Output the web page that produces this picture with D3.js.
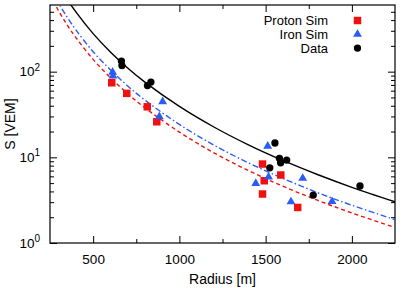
<!DOCTYPE html>
<html><head><meta charset="utf-8">
<script src="https://cdn.jsdelivr.net/npm/d3@7"></script>
<style>body{margin:0;background:#fff}text{font-family:"Liberation Sans",Arial,Helvetica,sans-serif}</style>
</head><body>
<svg id="c" width="403" height="288"></svg>
<script>
// ---- data ----
const protonR=[608,695,814,869,1482,1492,1482,1588,1686];
const protonS=[74.2,55.8,38.9,26.0,8.35,5.33,3.73,6.22,2.60];
const ironR=[613,615,903,884,1512,1517,1443,1715,1647,1885];
const ironS=[98.9,88.9,44.6,29.8,13.5,5.89,4.97,5.69,3.03,3.05];
const dataR=[664,667,815,835,1554,1580,1587,1622,1524,1776,2047];
const dataS=[133,117.8,68.8,75.6,14.7,9.73,8.65,9.30,7.54,3.63,4.63];
// fitted curves
const fitR=[250,300,350,400,500,600,700,800,1000,1200,1400,1600,1800,2000,2250];
const fitData=[1589,1023,699,498,278,170,110.6,75.6,39.3,22.6,14.0,9.19,6.30,4.47,3.03];
const fitIron=[980,631,431,307,171,105,68.2,46.6,24.2,13.9,8.63,5.67,3.88,2.76,1.87];
const fitProton=[796,513,350,250,139,85.2,55.4,37.9,19.7,11.3,7.01,4.60,3.16,2.24,1.52];
const xTicks=[500,1000,1500,2000];
const xMinor=[750,1250,1750];
const yTicks=[1,10,100];
const yExp=["0","1","2"];
const legendLabels=["Proton Sim","Iron Sim","Data"];
const xTitle="Radius [m]";
const yTitle="S [VEM]";

const RED="#f01010", BLUE="#2b5bf5", BLACK="#000";
const L=50,R=395,T=5,B=243;
const svg=d3.select("#c");
const x=d3.scaleLinear().domain([250,2250]).range([L,R]);
const y=d3.scaleLog().domain([1,600]).range([B,T]);

const yMinor=[];
[1,10,100].forEach(d=>{for(let k=2;k<=9;k++){const v=d*k; if(v<600) yMinor.push(v);}});

svg.append("defs").append("clipPath").attr("id","clip")
  .append("rect").attr("x",L).attr("y",T).attr("width",R-L).attr("height",B-T);

// axes (inward ticks)
function styleAxis(g){g.select(".domain").remove();g.selectAll("line").attr("stroke","#000").attr("stroke-width",1);}
svg.append("g").attr("transform",`translate(0,${B})`)
  .call(d3.axisBottom(x).tickValues(xTicks).tickSize(-7).tickPadding(11).tickFormat(d3.format("d")))
  .call(styleAxis).selectAll("text").attr("font-size","13.5px").attr("fill","#000").attr("font-family","Liberation Sans, Arial, sans-serif");
svg.append("g").attr("transform",`translate(0,${B})`)
  .call(d3.axisBottom(x).tickValues(xMinor).tickSize(-4).tickFormat(""))
  .call(styleAxis);
svg.append("g").attr("transform",`translate(0,${T})`)
  .call(d3.axisTop(x).tickValues(xTicks).tickSize(-7).tickFormat(""))
  .call(styleAxis);
svg.append("g").attr("transform",`translate(0,${T})`)
  .call(d3.axisTop(x).tickValues(xMinor).tickSize(-4).tickFormat(""))
  .call(styleAxis);

svg.append("g").attr("transform",`translate(${L},0)`)
  .call(d3.axisLeft(y).tickValues(yTicks).tickSize(-7).tickFormat(""))
  .call(styleAxis);
svg.append("g").attr("transform",`translate(${L},0)`)
  .call(d3.axisLeft(y).tickValues(yMinor).tickSize(-4).tickFormat(""))
  .call(styleAxis);
svg.append("g").attr("transform",`translate(${R},0)`)
  .call(d3.axisRight(y).tickValues(yTicks).tickSize(-7).tickFormat(""))
  .call(styleAxis);
svg.append("g").attr("transform",`translate(${R},0)`)
  .call(d3.axisRight(y).tickValues(yMinor).tickSize(-4).tickFormat(""))
  .call(styleAxis);

// y tick labels with superscripts
yTicks.forEach((v,i)=>{
  const t=svg.append("text").attr("x",40).attr("y",y(v)+4.6).attr("text-anchor","end")
    .attr("font-size","13.5px").attr("fill","#000");
  t.append("tspan").text("10");
  t.append("tspan").attr("dy",-5.5).attr("font-size","10px").text(yExp[i]);
});

// frame
svg.append("rect").attr("x",L).attr("y",T).attr("width",R-L).attr("height",B-T)
  .attr("fill","none").attr("stroke","#000").attr("stroke-width",1.2);

// curves
const line=d3.line().x(d=>x(d[0])).y(d=>y(d[1])).curve(d3.curveCatmullRom);
const cg=svg.append("g").attr("clip-path","url(#clip)");
cg.append("path").datum(fitR.map((r,i)=>[r,fitProton[i]])).attr("d",line)
  .attr("fill","none").attr("stroke",RED).attr("stroke-width",1.4).attr("stroke-dasharray","4,3");
cg.append("path").datum(fitR.map((r,i)=>[r,fitIron[i]])).attr("d",line)
  .attr("fill","none").attr("stroke",BLUE).attr("stroke-width",1.4).attr("stroke-dasharray","6,2.5,1.5,2.5");
cg.append("path").datum(fitR.map((r,i)=>[r,fitData[i]])).attr("d",line)
  .attr("fill","none").attr("stroke",BLACK).attr("stroke-width",1.4);

// points
const sq=d3.symbol().type(d3.symbolSquare).size(56);
const tri=d3.symbol().type(d3.symbolTriangle).size(34);
const circ=d3.symbol().type(d3.symbolCircle).size(42);
svg.append("g").selectAll("path").data(protonR.map((r,i)=>[r,protonS[i]])).join("path")
  .attr("d",sq).attr("transform",d=>`translate(${x(d[0])},${y(d[1])})`).attr("fill",RED);
svg.append("g").selectAll("path").data(ironR.map((r,i)=>[r,ironS[i]])).join("path")
  .attr("d",tri).attr("transform",d=>`translate(${x(d[0])},${y(d[1])})`).attr("fill",BLUE);
svg.append("g").selectAll("path").data(dataR.map((r,i)=>[r,dataS[i]])).join("path")
  .attr("d",circ).attr("transform",d=>`translate(${x(d[0])},${y(d[1])})`).attr("fill",BLACK);

// legend
const legSyms=[sq,tri,circ], legCols=[RED,BLUE,BLACK];
legendLabels.forEach((lab,i)=>{
  const yy=20.5+i*13.8;
  svg.append("text").attr("x",328).attr("y",yy+4.6).attr("text-anchor","end")
    .attr("font-size","13px").attr("fill","#000").text(lab);
  svg.append("path").attr("d",legSyms[i]).attr("transform",`translate(357.5,${yy})`).attr("fill",legCols[i]);
});

// axis titles
svg.append("text").attr("x",(L+R)/2).attr("y",284).attr("text-anchor","middle")
  .attr("font-size","14px").attr("fill","#000").text(xTitle);
svg.append("text").attr("transform",`translate(15,${(T+B)/2}) rotate(-90)`).attr("text-anchor","middle")
  .attr("font-size","14px").attr("fill","#000").text(yTitle);
</script>
</body></html>
